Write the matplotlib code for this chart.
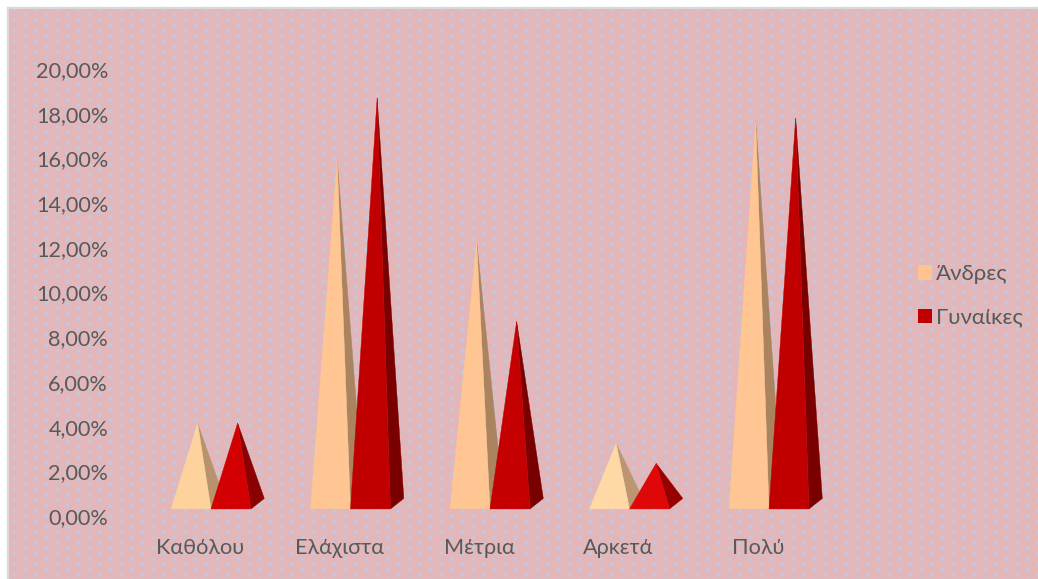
import numpy as np
import matplotlib
matplotlib.use("Agg")
import matplotlib.pyplot as plt
from matplotlib.patches import Polygon, Patch
from matplotlib.transforms import ScaledTranslation

categories = ["Καθόλου", "Ελάχιστα", "Μέτρια", "Αρκετά", "Πολύ"]
men = [4.2, 16.0, 12.35, 3.3, 17.75]
women = [4.2, 18.75, 8.75, 2.4, 17.85]
y_ticks = [0, 2, 4, 6, 8, 10, 12, 14, 16, 18, 20]
series_names = ["Άνδρες", "Γυναίκες"]

# front / side face colours per pyramid
men_front = ["#FDD29C", "#FFC593", "#FFC593", "#FFD8A6", "#FFC593"]
men_side = ["#B8926C", "#A9845F", "#A9845F", "#BC9670", "#A9845F"]
women_front = ["#D20000", "#C00000", "#C40000", "#DE0808", "#C00000"]
women_side = ["#8B0000", "#7A0000", "#7A0000", "#980000", "#7A0000"]

W, H = 1038, 579
BG = "#E3B6BA"
DOT = "#C3C7D8"
TEXT = "#595959"
WIDTH = 40 / 139.5      # pyramid base width, in category units
DEPTH_X = 13.3 / 139.5  # depth of the base, projected
DEPTH_Y = 10.5 / 22.35
FLOOR = 0.36            # front edge of the base sits a little above zero
SHIFT = 11 / 139.5      # pyramids sit right of the category label

plt.rcParams["font.family"] = ["Lato", "Open Sans", "DejaVu Sans"]
fig = plt.figure(figsize=(W / 100, H / 100), dpi=100, facecolor="white")

# dotted chart area background
bg = fig.add_axes([0, 0, 1, 1])
bg.set_xlim(0, W)
bg.set_ylim(H, 0)
bg.axis("off")
bg.fill_between([9, W], 9, H, color=BG, lw=0)
bg.plot([8, 8], [8, H], color="#D9D9D9", lw=1.6)
bg.plot([8, W], [8, 8], color="#D9D9D9", lw=1.6)
gx, gy = np.meshgrid(np.arange(0, 50), np.arange(0, 110))
dot_x = 14 + gx * 64 / 3 + (gy % 2) * 32 / 3
dot_y = 9.3 + gy * 16 / 3
keep = (dot_x > 9) & (dot_y > 9)
bg.scatter(dot_x[keep], dot_y[keep], s=14, color=DOT, alpha=0.5, lw=0)
bg.scatter(dot_x[keep], dot_y[keep], s=6.5, color=DOT, lw=0)

ax = fig.add_axes([120 / W, (H - 517) / H, 760 / W, 447 / H])
ax.patch.set_visible(False)
ax.set_xlim(-80 / 139.5, 680 / 139.5)
ax.set_ylim(0, 20)
for s in ax.spines.values():
    s.set_visible(False)


def pyramid(x, value, front, side):
    apex = (x + WIDTH / 2 + DEPTH_X / 2, value)
    right = (x + WIDTH, FLOOR)
    back = (x + WIDTH + DEPTH_X, FLOOR + DEPTH_Y)
    ax.add_patch(Polygon([right, back, apex], closed=True, fc=side, ec=side, lw=0.3))
    ax.add_patch(Polygon([(x, FLOOR), right, apex], closed=True, fc=front, ec=front, lw=0.3))


for i in range(len(categories)):
    pyramid(i - WIDTH + SHIFT, men[i], men_front[i], men_side[i])
    pyramid(i + SHIFT, women[i], women_front[i], women_side[i])

ax.set_yticks(y_ticks)
ax.set_yticklabels([("%.2f%%" % v).replace(".", ",") for v in y_ticks])
ax.set_xticks(range(len(categories)))
ax.set_xticklabels(categories)
ax.tick_params(axis="both", length=0, labelsize=15.6, labelcolor=TEXT)
ax.tick_params(axis="y", pad=8.6)
ax.tick_params(axis="x", pad=14.8)

# nudge the percent labels up a pixel
up = ScaledTranslation(0, 1 / 100, fig.dpi_scale_trans)
for label in ax.get_yticklabels():
    label.set_transform(label.get_transform() + up)

handles = [Patch(fc="#FFC38F", ec="none"), Patch(fc="#C00000", ec="none")]
fig.legend(handles, series_names, loc="center left", bbox_to_anchor=(918 / W, 1 - 296 / H),
           frameon=False, fontsize=16, labelcolor=TEXT, handlelength=0.63, handleheight=0.63,
           handletextpad=0.16, labelspacing=1.05, borderpad=0, borderaxespad=0)

fig.savefig("out.png", dpi=100)
